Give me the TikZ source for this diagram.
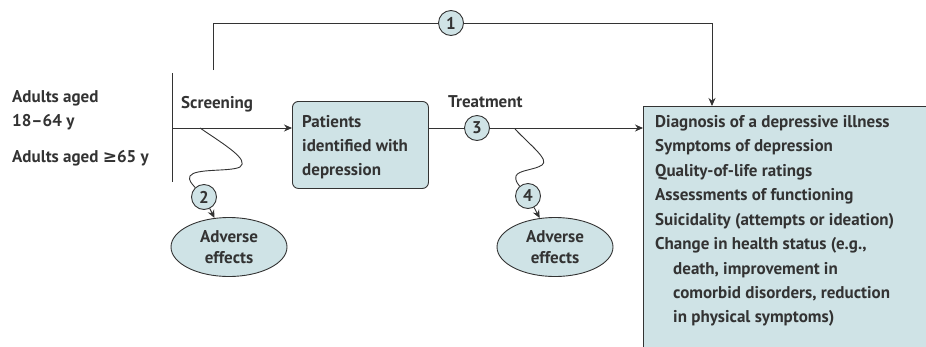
\documentclass[tikz,border=0pt]{standalone}
\usepackage{fontspec}
\setmainfont{PT Sans}
\newfontfamily\symfont{DejaVu Sans}
\usetikzlibrary{shapes.geometric,arrows.meta}
\definecolor{boxfill}{HTML}{CFE3E6}
\definecolor{linec}{HTML}{333333}
\begin{document}
\begin{tikzpicture}[x=1pt,y=-1pt,
  every node/.style={font=\fontsize{17}{24.4}\selectfont\bfseries, text=linec},
  conn/.style={draw=linec, line width=0.9pt},
  arr/.style={conn, -{Stealth[length=8pt,width=7pt]}},
  numc/.style={circle, draw=linec, line width=0.9pt, fill=boxfill, minimum size=25pt, inner sep=0pt},
  rbox/.style={draw=linec, line width=0.9pt, fill=boxfill, rounded corners=6pt},
  oval/.style={ellipse, draw=linec, line width=0.9pt, fill=boxfill, minimum width=116pt, minimum height=59pt, inner sep=0pt, align=center},
  lbl/.style={anchor=base west, inner sep=0pt}]
\useasboundingbox (0,0) rectangle (926,346);
% boxes
\node[rbox, minimum width=136pt, minimum height=87pt, anchor=north west] (pat) at (292,101) {};
\node[lbl] (pt1) at (302,127) {Patients};
\node[lbl] (pt2) at (302,151) {identified with};
\node[lbl] (pt3) at (302,175) {depression};
\node[draw=linec, line width=0.9pt, fill=boxfill, minimum width=300pt, minimum height=260pt, anchor=north west] (out) at (643,106) {};
\node[lbl] (o1) at (655,127) {Diagnosis of a depressive illness};
\node[lbl] (o2) at (655,151) {Symptoms of depression};
\node[lbl] (o3) at (655,176) {Quality-of-life ratings};
\node[lbl] (o4) at (655,200) {Assessments of functioning};
\node[lbl] (o5) at (655,225) {Suicidality (attempts or ideation)};
\node[lbl] (o6) at (655,249) {Change in health status (e.g.,};
\node[lbl] (o7) at (673,274) {death, improvement in};
\node[lbl] (o8) at (673,298) {comorbid disorders, reduction};
\node[lbl] (o9) at (673,322) {in physical symptoms)};
% left labels
\node[lbl] (a1) at (12,102) {Adults aged};
\node[lbl] (a2) at (12,126) {18–64 y};
\node[lbl] (a3) at (12,162) {Adults aged {\symfont\bfseries ≥}65 y};
\node[lbl] (scr) at (181,108) {Screening};
\node[lbl] (trt) at (448,107) {Treatment};
% bar
\coordinate (bt) at (172,73);
\coordinate (bb) at (172,182);
\draw[conn] (bt) -- (bb);
% main line
\coordinate (ms) at (172,128);
\draw[arr] (ms) -- (pat.west |- ms);
\node[numc] (c3) at (477,128) {3};
\draw[conn] (pat.east |- c3) -- (c3);
\draw[arr] (c3) -- (out.west |- c3);
% top path
\coordinate (t0) at (213,70);
\coordinate (t1) at (213,23);
\node[numc] (c1) at (451,23) {1};
\coordinate (t2) at (712,23);
\draw[conn] (t0) -- (t1) -- (c1);
\draw[arr] (c1) -- (t2) -- (t2 |- out.north);
% adverse effects 1
\node[oval] (ae1) at (229,247) {Adverse\\[-4pt]effects};
\node[numc] (c2) at (204,197) {2};
\coordinate (w1) at (200,128);
\draw[conn] (w1) .. controls (225,145) and (250,160) .. (240,167) .. controls (230,172) and (195,168) .. (190,176) .. controls (188,180) and (192,184) .. (c2);
\draw[arr] (c2) -- (ae1);
% adverse effects 2
\node[oval] (ae2) at (555,247) {Adverse\\[-4pt]effects};
\node[numc] (c4) at (528,196) {4};
\coordinate (w2) at (515,129);
\draw[conn] (w2) .. controls (530,145) and (550,160) .. (542,165) .. controls (535,170) and (518,170) .. (516,176) .. controls (515,180) and (517,183) .. (c4);
\draw[arr] (c4) -- (ae2);
\end{tikzpicture}
\end{document}
